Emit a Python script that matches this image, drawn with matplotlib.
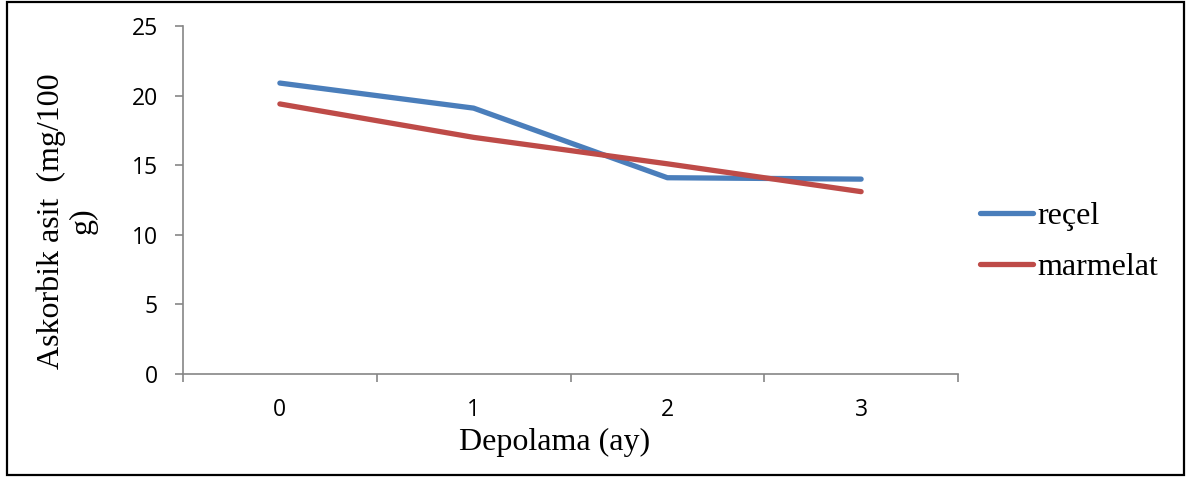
import matplotlib
matplotlib.use("Agg")
import matplotlib.pyplot as plt
from matplotlib.patches import Rectangle

# storage time (months) and ascorbic acid content
months = ["0", "1", "2", "3"]
recel = [20.9, 19.1, 14.1, 14.0]
marmelat = [19.4, 17.0, 15.1, 13.1]
yticks = [0, 5, 10, 15, 20, 25]

BLUE = "#4A7EBB"
RED = "#BE4B48"
AXIS = "#868686"
SERIF = "Liberation Serif"
SANS = "Open Sans"

W, H = 1186, 478
fig = plt.figure(figsize=(W / 100, H / 100), dpi=100)
ax = fig.add_axes([183 / W, 1 - 374 / H, (958 - 183) / W, (374 - 26) / H])

x = list(range(len(months)))
ax.plot(x, recel, color=BLUE, lw=3.8, solid_capstyle="round", solid_joinstyle="round", label="reçel")
ax.plot(x, marmelat, color=RED, lw=3.8, solid_capstyle="round", solid_joinstyle="round", label="marmelat")

ax.set_xlim(-0.5, len(months) - 0.5)
ax.set_ylim(0, 25)
ax.set_yticks(yticks)
ax.set_xticks(x)
ax.set_xticklabels(months)
ax.set_xticks([i - 0.5 for i in range(len(months) + 1)], minor=True)

for s in ["top", "right"]:
    ax.spines[s].set_visible(False)
for s in ["left", "bottom"]:
    ax.spines[s].set_color(AXIS)
    ax.spines[s].set_linewidth(1.2)

ax.tick_params(axis="y", which="major", length=5.5, width=1.2, color=AXIS, pad=12.5,
               labelsize=16.5, labelcolor="black")
ax.tick_params(axis="x", which="major", length=0, pad=17, labelsize=16.5, labelcolor="black")
ax.tick_params(axis="x", which="minor", length=5.5, width=1.2, color=AXIS)
for lab in ax.get_xticklabels() + ax.get_yticklabels():
    lab.set_fontfamily(SANS)

fig.text(555 / W, 1 - 442 / H, "Depolama (ay)", ha="center", va="center",
         fontsize=23, family=SERIF)
fig.text(67 / W, 1 - 221 / H, "Askorbik asit  (mg/100\ng)", ha="center", va="center",
         rotation=90, fontsize=23, family=SERIF, multialignment="center", linespacing=1.15)

leg = ax.legend(loc="center left", bbox_to_anchor=(980 / W, 1 - 242 / H),
                bbox_transform=fig.transFigure, frameon=False, borderpad=0,
                borderaxespad=0, handlelength=1.66, handletextpad=0.15,
                labelspacing=0.68, prop={"family": SERIF, "size": 23})

# outer chart frame
fig.patches.append(Rectangle((7 / W, 3 / H), (1184 - 7) / W, (476 - 3) / H,
                             transform=fig.transFigure, fill=False,
                             edgecolor="black", lw=1.6))

fig.savefig("out.png", dpi=100)
